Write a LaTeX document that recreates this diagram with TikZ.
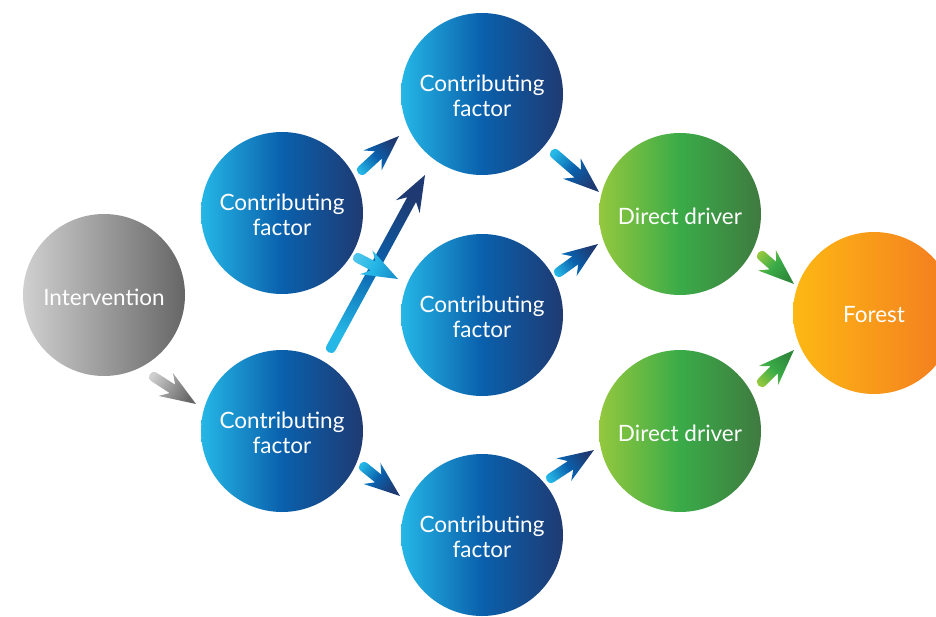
\documentclass[tikz,border=0pt]{standalone}
\usepackage{fontspec}
\setmainfont{Lato}
\usetikzlibrary{calc}
\definecolor{bL}{HTML}{25B7E6}
\definecolor{bM}{HTML}{0A60AC}
\definecolor{bD}{HTML}{1F3A72}
\definecolor{gL}{HTML}{D0D0D0}
\definecolor{gD}{HTML}{666666}
\definecolor{grL}{HTML}{94C83E}
\definecolor{grM}{HTML}{3AAB48}
\definecolor{grD}{HTML}{3F7A40}
\definecolor{oL}{HTML}{FDB813}
\definecolor{oD}{HTML}{F37A21}
\tikzset{
  circ/.style={circle, minimum size=162pt, inner sep=0pt, text=white, align=center,
    font=\fontsize{22.5}{24.5}\selectfont},
  bluec/.style={circ, left color=bL, right color=bD, middle color=bM},
  grayc/.style={circ, left color=gL, right color=gD},
  greenc/.style={circ, left color=grL, right color=grD, middle color=grM},
  orangec/.style={circ, left color=oL, right color=oD},
  lbl/.style={text=white, align=center, font=\fontsize{22.5}{24.5}\selectfont},
}
\newcommand\fatarrow[5]{% tail, tip, light, middle, dark
  \pgfmathanglebetweenpoints{\pgfpointanchor{#1}{center}}{\pgfpointanchor{#2}{center}}%
  \pgfmathsetmacro\shang{\pgfmathresult-90}%
  \shade[top color=#5, bottom color=#3, middle color=#4, shading angle=\shang]
    (#2) -- ($(#2)!36pt!(#1)!13.5pt!90:(#1)$)
    -- ($(#2)!28pt!(#1)!5pt!90:(#1)$)
    -- ($(#1)!5pt!-90:(#2)$)
    .. controls ($(#1)!6.67pt!180:(#2)!5pt!-90:(#1)$) and ($(#1)!6.67pt!180:(#2)!5pt!90:(#1)$) ..
       ($(#1)!5pt!90:(#2)$)
    -- ($(#2)!28pt!(#1)!5pt!-90:(#1)$)
    -- ($(#2)!36pt!(#1)!13.5pt!-90:(#1)$) -- cycle;
}
\begin{document}
\begin{tikzpicture}[x=1pt,y=-1pt]
\useasboundingbox (0,0) rectangle (936,616);
\clip (0,0) rectangle (936,616);
\node[grayc] (int) at (104,295) {};
\node[bluec] (cf1) at (282,213) {};
\node[bluec] (cf2) at (282,431) {};
\node[bluec] (cf3) at (482,94) {};
\node[bluec] (cf4) at (482,315) {};
\node[bluec] (cf5) at (482,535) {};
\node[greenc] (dd1) at (680,214) {};
\node[greenc] (dd2) at (680,431) {};
\node[orangec] (for) at (874,313) {};
\node[lbl] (tint) at ($(int)+(0,2)$) {Intervention};
\node[lbl] (tcf1) at ($(cf1)+(0,2)$) {Contributing\\factor};
\node[lbl] (tcf2) at ($(cf2)+(0,2)$) {Contributing\\factor};
\node[lbl] (tcf3) at ($(cf3)+(0,2)$) {Contributing\\factor};
\node[lbl] (tcf4) at ($(cf4)+(0,2)$) {Contributing\\factor};
\node[lbl] (tcf5) at ($(cf5)+(0,2)$) {Contributing\\factor};
\node[lbl] (tdd1) at ($(dd1)+(0,2)$) {Direct driver};
\node[lbl] (tdd2) at ($(dd2)+(0,2)$) {Direct driver};
\node[lbl] (tfor) at ($(for)+(0,2)$) {Forest};
% arrow end points
\coordinate (a1t) at (154,377); \coordinate (a1h) at (196,404);
\coordinate (a2t) at (362,170); \coordinate (a2h) at (399,136);
\coordinate (a3t) at (358,258); \coordinate (a3h) at (398,279);
\coordinate (a4t) at (331,348); \coordinate (a4h) at (425,175);
\coordinate (a5t) at (364,467); \coordinate (a5h) at (400,496);
\coordinate (a6t) at (555,154); \coordinate (a6h) at (599,192);
\coordinate (a7t) at (559,272); \coordinate (a7h) at (598,244);
\coordinate (a8t) at (551,478); \coordinate (a8h) at (594,450);
\coordinate (a9t) at (762,256); \coordinate (a9h) at (794,284);
\coordinate (a10t) at (762,382); \coordinate (a10h) at (794,350);
\fatarrow{a1t}{a1h}{gL}{gray!80}{gD}
\fatarrow{a2t}{a2h}{bL}{bM}{bD}
\fatarrow{a4t}{a4h}{bL}{bM}{bD}
\fatarrow{a3t}{a3h}{bL!80!white}{bL}{bL!60!bM}
\fatarrow{a5t}{a5h}{bL}{bM}{bD}
\fatarrow{a6t}{a6h}{bL}{bM}{bD}
\fatarrow{a7t}{a7h}{bL}{bM}{bD}
\fatarrow{a8t}{a8h}{bL}{bM}{bD}
\fatarrow{a9t}{a9h}{grL}{grM}{grM!80!black}
\fatarrow{a10t}{a10h}{grL}{grM}{grM!80!black}
\end{tikzpicture}
\end{document}
